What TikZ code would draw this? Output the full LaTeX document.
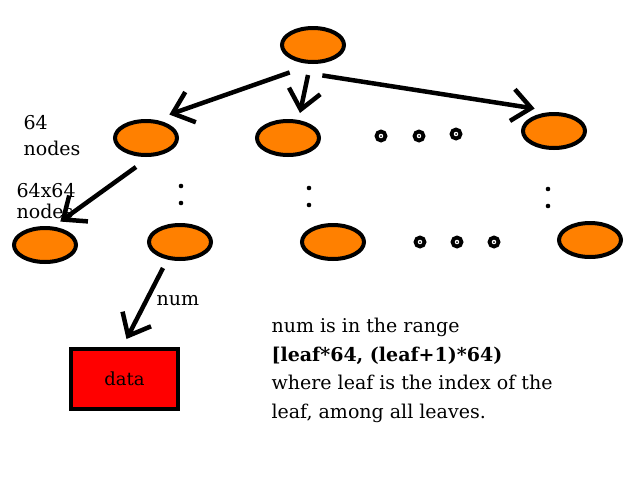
\documentclass[tikz,border=0pt]{standalone}
\usepackage{fontspec}
\setmainfont{DejaVu Serif}
\usetikzlibrary{arrows.meta,shapes.geometric}
\definecolor{treeorange}{RGB}{255,128,0}

\begin{document}
\begin{tikzpicture}[x=1pt,y=-1pt,>={Straight Barb[length=19pt,width=32pt]},line width=4.5pt]
  \tikzstyle{every node}=[font=\fontsize{19}{26}\selectfont]
  \tikzstyle{tnode}=[ellipse,draw=black,line width=4pt,fill=treeorange,minimum width=62pt,minimum height=34pt,inner sep=0pt]
  \tikzstyle{datablock}=[rectangle,draw=black,line width=4pt,fill=red,minimum width=107pt,minimum height=60pt,inner sep=0pt,font=\fontsize{18}{22}\selectfont]

  \useasboundingbox (0,0) rectangle (640,480);

  \node[tnode] (r)  at (313,45)  {};
  \node[tnode] (a1) at (146,138) {};
  \node[tnode] (a2) at (288,138) {};
  \node[tnode] (a3) at (554,131) {};
  \node[tnode] (b1) at (45,245)  {};
  \node[tnode] (b2) at (180,242) {};
  \node[tnode] (b3) at (333,242) {};
  \node[tnode] (b4) at (590,240) {};
  \node[datablock] (data) at (124.5,379) {data};

  % labels
  \node[anchor=base west,align=left] (lvl1) at (18,155) {64\\nodes};
  \node[anchor=base west,align=left,font=\fontsize{19}{21}\selectfont] (lvl2) at (11,218) {64x64\\nodes};
  \node[anchor=base west] (num) at (151,305) {num};
  \node[anchor=base west,align=left,font=\fontsize{19}{28.5}\selectfont] (note) at (266,418)
    {num is in the range\\\textbf{[leaf*64, (leaf+1)*64)}\\where leaf is the index of the\\leaf, among all leaves.};

  \path[->]
  ([shift={(0pt,-14pt)}]r.south west) edge ([shift={(0pt,10pt)}]a1.north east)
  ([shift={(-5pt,-11pt)}]r.south) edge ([shift={(12pt,6pt)}]a2.north)
  ([shift={(-14pt,-17pt)}]r.south east) edge ([shift={(4pt,9pt)}]a3.north west)
  ([shift={(-10pt,-10pt)}]a1.south) edge ([shift={(-8pt,10pt)}]b1.north east)
  ([shift={(-17pt,-7pt)}]b2.south) edge ([shift={(2pt,8pt)}]data.north);

  % dots between siblings
  \foreach \x/\y in {381/136,419/136,456/134,420/242,457/242,494/242} {
    \draw[line width=3.8pt] (\x,\y) circle (4.5);
    \fill (\x,\y) circle (1);
  }
  \foreach \x/\y in {181/186,309/188,548/189} {
    \fill (\x,\y) circle (2.3);
    \fill (\x,\y+17) circle (2.3);
  }
\end{tikzpicture}
\end{document}
